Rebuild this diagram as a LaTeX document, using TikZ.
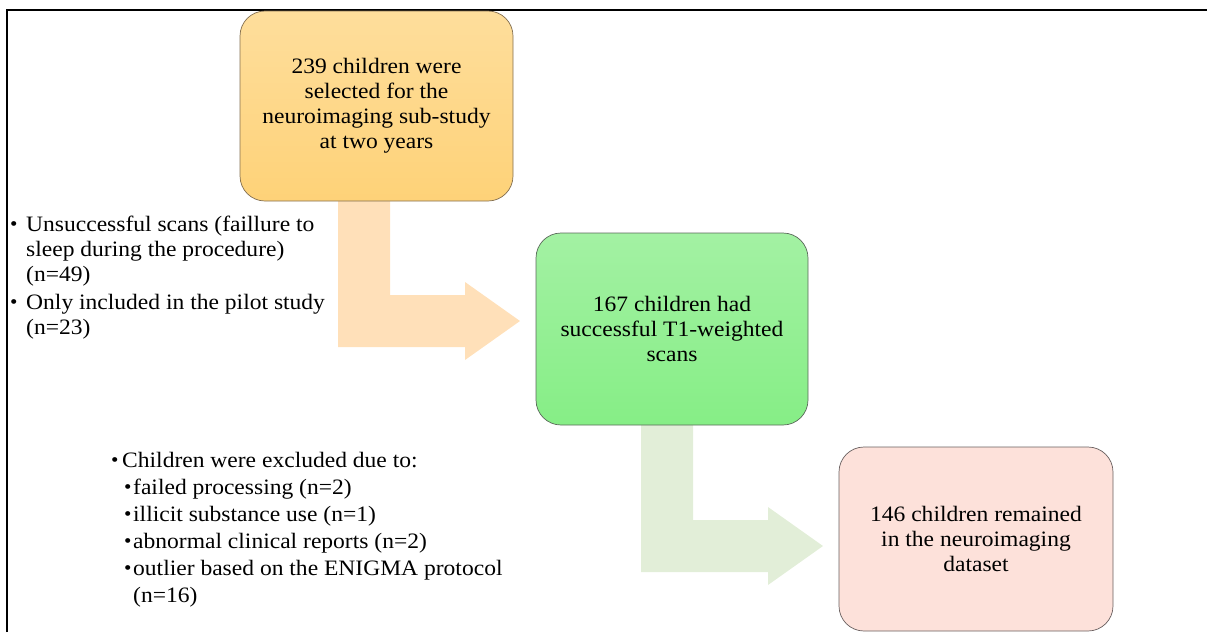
\documentclass[tikz,border=0pt]{standalone}
\usepackage{fontspec}
\setmainfont[FakeStretch=1.07]{Liberation Serif}
\usetikzlibrary{calc}
\definecolor{orangetop}{RGB}{254,222,156}
\definecolor{orangebot}{RGB}{254,210,120}
\definecolor{orangeedge}{RGB}{130,110,80}
\definecolor{greentop}{RGB}{163,241,163}
\definecolor{greenbot}{RGB}{134,238,134}
\definecolor{greenedge}{RGB}{90,105,90}
\definecolor{pinkfill}{RGB}{253,225,218}
\definecolor{pinkedge}{RGB}{105,95,95}
\definecolor{orangearrow}{RGB}{255,224,185}
\definecolor{greenarrow}{RGB}{226,238,216}
\newcommand{\bul}{\raisebox{0.1ex}{\scalebox{0.9}{•}}}
\begin{document}
\begin{tikzpicture}[x=1pt,y=-1pt,
  stagebox/.style={rounded corners=25pt, line width=0.7pt, align=center, inner sep=0pt,
    font=\fontsize{22}{25}\selectfont},
  listtext/.style={anchor=north west, inner sep=0pt, align=left,
    font=\fontsize{22}{25}\selectfont},
  frameline/.style={line width=2.2pt, black}]
\useasboundingbox (0,0) rectangle (1215,632);
% frame
\coordinate (fl) at (7,632);
\coordinate (fc) at (7,10);
\coordinate (fr) at (1207,10);
\draw[frameline] (fl) -- (fc) -- (fr);
% arrow coordinates
\coordinate (oa1) at (338,200);
\coordinate (oa2) at (390,200);
\coordinate (ob) at (465,295);
\coordinate (oc) at (465,282);
\coordinate (otip) at (520,321);
\coordinate (od) at (465,360);
\coordinate (oe) at (465,347);
\coordinate (ga1) at (641,424);
\coordinate (ga2) at (693,424);
\coordinate (gb) at (768,520);
\coordinate (gc) at (768,507);
\coordinate (gtip) at (823,546);
\coordinate (gd) at (768,585);
\coordinate (ge) at (768,572);
\fill[orangearrow] (oa1) -- (oa2) |- (ob) -- (oc) -- (otip) -- (od) -- (oe) -| cycle;
\fill[greenarrow] (ga1) -- (ga2) |- (gb) -- (gc) -- (gtip) -- (gd) -- (ge) -| cycle;
% boxes
\node[stagebox, draw=orangeedge, top color=orangetop, bottom color=orangebot,
  minimum width=273pt, minimum height=190pt] (b1) at (376.5,106)
  {239 children were\\selected for the\\neuroimaging sub-study\\at two years};
\node[stagebox, draw=greenedge, top color=greentop, bottom color=greenbot,
  minimum width=272pt, minimum height=192pt] (b2) at (672,329)
  {167 children had\\successful T1-weighted\\scans};
\node[stagebox, draw=pinkedge, fill=pinkfill,
  minimum width=274pt, minimum height=184pt] (b3) at (976,539)
  {146 children remained\\in the neuroimaging\\dataset};
% lists
\node[listtext] (l1) at (10,214) {\begin{tabular}{@{}l@{}}
\makebox[16pt][l]{\bul}Unsuccessful scans (faillure to\\
\hspace*{16pt}sleep during the procedure)\\
\hspace*{16pt}(n=49)\\[3pt]
\makebox[16pt][l]{\bul}Only included in the pilot study\\
\hspace*{16pt}(n=23)
\end{tabular}};
\node[listtext] (l2) at (111,448) {\renewcommand{\arraystretch}{1.08}\begin{tabular}{@{}l@{}}
\makebox[11pt][l]{\bul}Children were excluded due to:\\
\hspace*{13pt}\makebox[9pt][l]{\bul}failed processing (n=2)\\
\hspace*{13pt}\makebox[9pt][l]{\bul}illicit substance use (n=1)\\
\hspace*{13pt}\makebox[9pt][l]{\bul}abnormal clinical reports (n=2)\\
\hspace*{13pt}\makebox[9pt][l]{\bul}outlier based on the ENIGMA protocol\\
\hspace*{22pt}(n=16)
\end{tabular}};
\end{tikzpicture}
\end{document}
